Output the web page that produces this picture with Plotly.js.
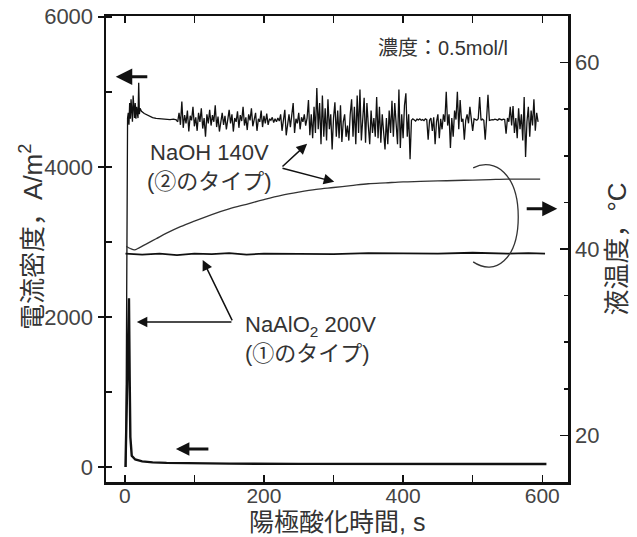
<!DOCTYPE html>
<html>
<head>
<meta charset="utf-8">
<script src="https://cdn.plot.ly/plotly-3.0.1.min.js"></script>
<style>html,body{margin:0;padding:0;background:#fff;}#chart{width:637px;height:537px;}</style>
</head>
<body>
<div id="chart"></div>
<script>
// ---- Data ----
// NaOH 140V current density (A/m2): start-up part
const naohStartTime = [1.5, 2.5, 4, 5, 6, 7, 8, 9, 10, 11, 12, 13, 14, 15, 16, 17, 18, 19, 20, 21, 22, 24, 28, 32, 36, 40, 45, 50, 55, 60, 65, 70, 74, 76];
const naohStartCurrent = [0, 2400, 4650, 4720, 4560, 4850, 4640, 4900, 4700, 4600, 4950, 4700, 4650, 4850, 4640, 4800, 4700, 4650, 5120, 4700, 4780, 4740, 4710, 4690, 4670, 4655, 4645, 4640, 4635, 4632, 4630, 4635, 4625, 4600];
// NaOH 140V current density: steady (noisy) part, sampled every 2 s from 76 s
const naohSteadyStart = 76;
const naohSteadyStep = 2;
const naohSteadyCurrent = [
  4600,4720,4560,4870,4520,4690,4580,4750,4470,4680,4620,4800,4540,4660,4480,4720,4600,4780,4510,4650,
  4400,4700,4580,4760,4550,4690,4600,4820,4530,4670,4470,4640,4720,4560,4680,4500,4630,4760,4580,4700,
  4470,4650,4600,4740,4520,4690,4610,4800,4550,4660,4490,4700,4620,4780,4540,4650,4720,4480,4640,4600,
  4750,4530,4680,4580,4710,4560,4640,
  4620,4660,4590,4640,4600,4650,4610,
  4700,4480,4650,4760,4420,4600,4700,4530,4680,4850,4450,4640,4580,4720,4500,4660,4600,4700,4550,4650,
  4890,4420,4700,4380,4800,4450,5050,4500,4850,4300,4950,4400,4780,4350,4900,4500,4700,4230,4650,4860,
  4400,4750,4380,4820,4330,4600,4700,4400,4550,4350,4700,4900,4400,4800,4300,4950,4450,5030,4350,4700,
  4920,4320,4850,4550,4300,4750,4450,4650,4400,4930,4380,4800,4320,4700,4500,4230,4650,4300,4750,4450,
  4880,4400,4850,4500,4300,5030,4250,4700,4380,4820,4980,4400,4700,4100,
  4620,4640,4630,4610,4635,4625,4640,4620,4630,4615,4640,4630,4360,4620,
  4650,4480,4660,4300,4600,4700,4380,4640,4500,4700,4600,5000,4550,4700,4250,4650,4400,4750,4630,5000,
  4500,4890,4600,4640,4360,4620,4700,4580,4800,4620,4480,4640,4630,4620,4640,4930,4620,4635,4620,4360,
  4640,4960,4620,4630,
  4630,4625,4635,4630,4620,4640,4630,4625,4635,4630,
  4440,4650,4600,4800,4550,4810,4450,4650,4380,4780,4500,4700,4350,4930,4130,4600,4800,4400,4750,4550,
  4900,4480,4720,4600
];
// NaOH 140V liquid temperature (°C)
const naohTempTime = [2, 8, 14, 20, 30, 45, 60, 80, 100, 125, 150, 175, 200, 225, 250, 275, 300, 325, 350, 375, 400, 425, 450, 475, 500, 525, 550, 575, 597];
const naohTemp = [40.3, 40.05, 39.9, 40.1, 40.5, 41.1, 41.7, 42.4, 43.0, 43.7, 44.3, 44.8, 45.3, 45.75, 46.1, 46.4, 46.6, 46.8, 47.0, 47.1, 47.2, 47.25, 47.3, 47.35, 47.4, 47.45, 47.5, 47.5, 47.5];
// NaAlO2 200V current density (A/m2)
const alTime = [1, 6, 7, 8, 10, 15, 25, 40, 60, 100, 150, 250, 350, 450, 520, 606];
const alCurrent = [0, 2250, 1200, 400, 150, 100, 75, 62, 55, 48, 45, 42, 41, 40, 41, 40];
// NaAlO2 200V liquid temperature (°C)
const alTempTime = [1, 25, 50, 75, 100, 125, 150, 175, 200, 250, 300, 350, 400, 450, 500, 550, 580, 604];
const alTemp = [39.5, 39.4, 39.5, 39.35, 39.5, 39.45, 39.55, 39.4, 39.5, 39.5, 39.45, 39.55, 39.5, 39.5, 39.6, 39.5, 39.55, 39.5];

// ---- Tick labels ----
const xTicks = [0, 200, 400, 600];
const yTicks = [0, 2000, 4000, 6000];
const y2Ticks = [20, 40, 60];

const FONT = 'Liberation Sans, Arial, Noto Sans CJK JP, sans-serif';
const TXT = '#333';
const INK = '#111';

const traces = [
  {x: naohStartTime, y: naohStartCurrent, mode: 'lines', line: {color: INK, width: 1.3}, yaxis: 'y', hoverinfo: 'skip'},
  {y: naohSteadyCurrent, x0: naohSteadyStart, dx: naohSteadyStep, mode: 'lines', line: {color: INK, width: 1.3}, yaxis: 'y', hoverinfo: 'skip'},
  {x: naohTempTime, y: naohTemp, mode: 'lines', line: {color: '#333', width: 1.3, shape: 'spline'}, yaxis: 'y2', hoverinfo: 'skip'},
  {x: alTime, y: alCurrent, mode: 'lines', line: {color: INK, width: 2.4}, yaxis: 'y', hoverinfo: 'skip'},
  {x: alTempTime, y: alTemp, mode: 'lines', line: {color: INK, width: 1.8}, yaxis: 'y2', hoverinfo: 'skip'}
];

function arrow(x, y, ax, ay, w, s) {
  return {x: x, y: y, ax: ax, ay: ay, xref: 'x', yref: 'y', axref: 'x', ayref: 'y',
          text: '', showarrow: true, arrowhead: 2, arrowsize: s, arrowwidth: w, arrowcolor: INK, standoff: 0, startstandoff: 0};
}

const layout = {
  width: 637, height: 537,
  margin: {l: 106, r: 69, t: 16, b: 55},
  paper_bgcolor: '#fff', plot_bgcolor: '#fff',
  showlegend: false,
  font: {family: FONT, color: TXT, size: 22},
  xaxis: {
    range: [-27, 637], tickvals: xTicks, ticks: 'inside', ticklen: 7, tickwidth: 1.5, tickcolor: INK,
    minor: {dtick: 100, tick0: 0, ticks: 'inside', ticklen: 7, tickwidth: 1.5, tickcolor: INK},
    showline: true, linewidth: 2.5, linecolor: INK, mirror: 'ticks', showgrid: false, zeroline: false,
    tickfont: {size: 21, color: '#444'}, ticklabelstandoff: -7
  },
  yaxis: {
    range: [-200, 6010], tickvals: yTicks, ticks: 'outside', ticklen: 6, tickwidth: 1.5, tickcolor: INK,
    minor: {dtick: 1000, tick0: 0, ticks: 'inside', ticklen: 6, tickwidth: 1.5, tickcolor: INK},
    showline: true, linewidth: 2.5, linecolor: INK, showgrid: false, zeroline: false,
    tickfont: {size: 22, color: '#444'}
  },
  yaxis2: {
    range: [15, 65], overlaying: 'y', side: 'right', tickvals: y2Ticks, ticks: 'inside', ticklen: 8, tickwidth: 1.5, tickcolor: INK,
    minor: {dtick: 5, tick0: 0, ticks: 'inside', ticklen: 4, tickwidth: 1.5, tickcolor: INK},
    showline: true, linewidth: 2.5, linecolor: INK, showgrid: false, zeroline: false,
    tickfont: {size: 22, color: '#444'},
    title: {text: '液温度，°C', font: {size: 26, color: TXT}, standoff: 10}
  },
  annotations: [
    // x axis title
    {x: 0.5, y: -0.117, xref: 'paper', yref: 'paper', xanchor: 'center', yanchor: 'bottom', borderpad: 0,
     text: '陽極酸化時間, s', showarrow: false, font: {size: 25, color: TXT}},
    // left axis title
    {x: -0.160, y: 0.526, xref: 'paper', yref: 'paper', xanchor: 'center', yanchor: 'middle', textangle: -90,
     text: '電流密度，A/m<sup>2</sup>', showarrow: false, font: {size: 26, color: TXT}},
    {x: 457, y: 5587, xref: 'x', yref: 'y', text: '濃度：0.5mol/l', showarrow: false, font: {size: 20, color: TXT}},
    {x: 122, y: 3993, xref: 'x', yref: 'y', text: 'NaOH 140V<br>(②のタイプ)', showarrow: false, align: 'center', font: {size: 22, color: TXT}},
    {x: 170, y: 1707, xref: 'x', yref: 'y', xanchor: 'left', text: 'NaAlO<sub>2</sub> 200V<br>(①のタイプ)', showarrow: false, align: 'left', font: {size: 22, color: TXT}},
    // leader lines
    arrow(262, 4307, 224.5, 3987, 1.5, 1.4),
    arrow(301, 3800, 224.5, 3987, 1.5, 1.4),
    arrow(17.3, 1933, 155.4, 1933, 1.5, 1.4),
    arrow(112, 2760, 155.4, 1933, 1.5, 1.4),
    // axis indicator arrows
    arrow(-13, 5200, 34.5, 5200, 3, 1.1),
    arrow(73.4, 240, 122.3, 240, 3, 0.9),
    arrow(621.6, 3440, 575.5, 3440, 3, 1.0)
  ],
  shapes: [
    {type: 'path', xref: 'x', yref: 'y',
     path: 'M 500.7,3987 C 532.4,4133 565.5,3893 565.5,3333 C 565.5,2773 532.4,2533 500.7,2733',
     line: {color: '#333', width: 1.3}}
  ]
};

Plotly.newPlot('chart', traces, layout, {displayModeBar: false, staticPlot: true});
</script>
</body>
</html>
